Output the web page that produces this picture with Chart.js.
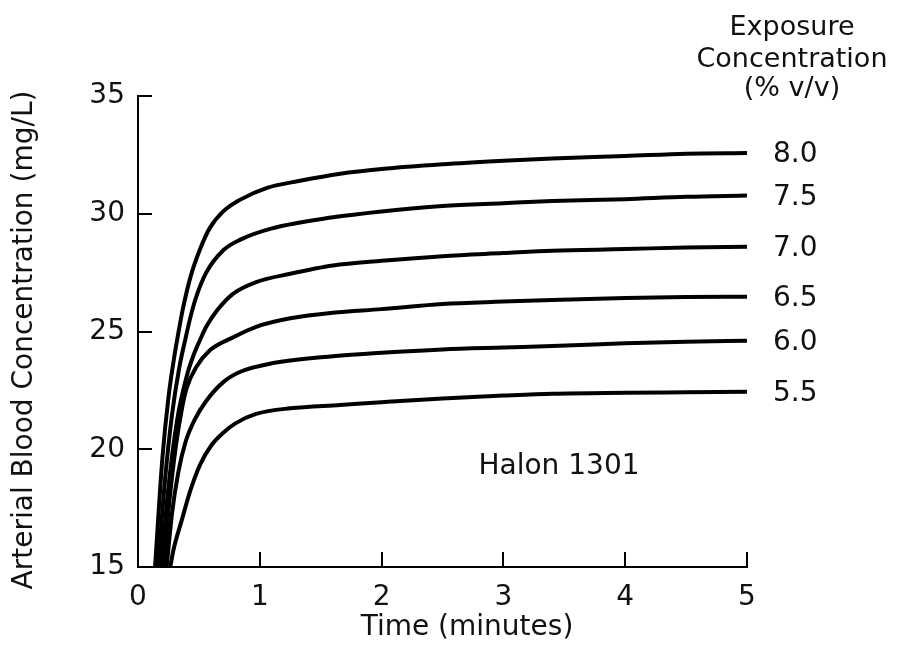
<!DOCTYPE html>
<html>
<head>
<meta charset="utf-8">
<script src="https://cdn.jsdelivr.net/npm/chart.js@4.4.0/dist/chart.umd.min.js"></script>
<style>
  html, body { margin: 0; padding: 0; background: #fff; }
  canvas { display: block; }
</style>
</head>
<body>
<canvas id="halonChart" width="901" height="655"></canvas>
<script>
// exposure concentrations (% v/v), top curve first
const seriesLabels = ["8.0", "7.5", "7.0", "6.5", "6.0", "5.5"];

// time (minutes) / arterial blood concentration (mg/L)
const time80 = [0.14, 0.2, 0.25, 0.3, 0.33, 0.37, 0.43, 0.51, 0.59, 0.7, 0.84, 1.06, 1.33, 1.66, 2.0, 2.5, 3.0, 3.4, 4.0, 4.5, 5.0];
const conc80 = [15, 19.6, 22.2, 24.0, 24.9, 26.0, 27.3, 28.5, 29.4, 30.1, 30.6, 31.1, 31.4, 31.7, 31.9, 32.1, 32.25, 32.35, 32.45, 32.55, 32.58];

const time75 = [0.165, 0.22, 0.28, 0.34, 0.39, 0.43, 0.48, 0.56, 0.7, 0.84, 1.1, 1.6, 2.0, 2.5, 3.0, 3.4, 4.0, 4.5, 5.0];
const conc75 = [15, 18.6, 21.5, 23.5, 24.7, 25.6, 26.5, 27.5, 28.45, 28.9, 29.38, 29.85, 30.1, 30.33, 30.45, 30.54, 30.62, 30.72, 30.77];

const time70 = [0.19, 0.25, 0.32, 0.4, 0.46, 0.51, 0.56, 0.65, 0.78, 0.97, 1.25, 1.6, 2.0, 2.5, 3.0, 3.4, 4.0, 4.5, 5.0];
const conc70 = [15, 18.4, 21.2, 23.1, 24.05, 24.65, 25.2, 25.9, 26.6, 27.1, 27.45, 27.8, 28.0, 28.2, 28.33, 28.43, 28.5, 28.57, 28.6];

const time65 = [0.21, 0.26, 0.31, 0.36, 0.4, 0.48, 0.59, 0.78, 0.97, 1.25, 1.6, 2.0, 2.5, 3.0, 3.4, 4.0, 4.5, 5.0];
const conc65 = [15, 17.9, 20.1, 21.7, 22.6, 23.5, 24.2, 24.75, 25.2, 25.56, 25.8, 25.95, 26.17, 26.27, 26.34, 26.42, 26.46, 26.48];

const time60 = [0.235, 0.28, 0.33, 0.39, 0.47, 0.56, 0.7, 0.84, 1.1, 1.6, 2.0, 2.5, 3.0, 3.4, 4.0, 4.5, 5.0];
const conc60 = [15, 17.3, 19.0, 20.3, 21.3, 22.05, 22.85, 23.29, 23.65, 23.95, 24.1, 24.24, 24.32, 24.38, 24.5, 24.57, 24.61];

const time55 = [0.265, 0.29, 0.36, 0.43, 0.51, 0.6, 0.7, 0.8, 0.97, 1.25, 1.66, 2.0, 2.5, 3.0, 3.4, 4.0, 4.5, 5.0];
const conc55 = [15, 15.7, 17.0, 18.25, 19.35, 20.15, 20.7, 21.1, 21.5, 21.74, 21.88, 22.0, 22.16, 22.28, 22.36, 22.4, 22.42, 22.44];

const xTicks = [0, 1, 2, 3, 4, 5];
const yTicks = [15, 20, 25, 30, 35];

const xTitle = "Time (minutes)";
const yTitle = "Arterial Blood Concentration (mg/L)";
const legendTitle = ["Exposure", "Concentration", "(% v/v)"];
const agentLabel = "Halon 1301";

const FONT = "'DejaVu Sans', sans-serif";

const times = [time80, time75, time70, time65, time60, time55];
const concs = [conc80, conc75, conc70, conc65, conc60, conc55];

function toPoints(t, c) {
    return t.map((x, i) => ({ x: x, y: c[i] }));
}

/** inward tick marks, axis titles and text annotations */
const annotate = {
    id: "annotate",
    afterDraw(chart) {
        const { ctx, chartArea, scales } = chart;
        const xs = scales.x, ys = scales.y;

        ctx.save();
        ctx.strokeStyle = "#000";
        ctx.lineWidth = 2;
        ctx.beginPath();
        yTicks.forEach(v => {
            const py = Math.round(ys.getPixelForValue(v));
            ctx.moveTo(chartArea.left, py);
            ctx.lineTo(chartArea.left + 14, py);
        });
        xTicks.forEach(v => {
            const px = Math.round(xs.getPixelForValue(v));
            ctx.moveTo(px, chartArea.bottom);
            ctx.lineTo(px, chartArea.bottom - 15);
        });
        ctx.stroke();

        ctx.fillStyle = "#111";
        ctx.font = "28px " + FONT;
        ctx.textAlign = "center";
        ctx.textBaseline = "middle";
        ctx.fillText(xTitle, 467, 628);

        ctx.save();
        ctx.translate(25, 340);
        ctx.rotate(-Math.PI / 2);
        ctx.fillText(yTitle, 0, 0);
        ctx.restore();

        ctx.font = "27px " + FONT;
        ctx.textBaseline = "alphabetic";
        const baselines = [35, 67, 96];
        legendTitle.forEach((line, i) => ctx.fillText(line, 792, baselines[i]));

        ctx.font = "28px " + FONT;
        ctx.textAlign = "left";
        ctx.textBaseline = "middle";
        seriesLabels.forEach((lab, i) => {
            const c = concs[i];
            const py = ys.getPixelForValue(c[c.length - 1]);
            ctx.fillText(lab, chartArea.right + 26, py + 2);
        });

        ctx.textAlign = "center";
        ctx.fillText(agentLabel, 559, 467);
        ctx.restore();
    }
};

const datasets = seriesLabels.map((lab, i) => ({
    label: lab,
    data: toPoints(times[i], concs[i]),
    borderColor: "#000",
    borderWidth: 4,
    pointRadius: 0,
    fill: false,
    cubicInterpolationMode: "monotone"
}));

new Chart(document.getElementById("halonChart"), {
    type: "line",
    data: { datasets: datasets },
    options: {
        responsive: false,
        animation: false,
        devicePixelRatio: 1,
        layout: { padding: { top: 96, right: 154, left: 0, bottom: 0 } },
        plugins: { legend: { display: false }, tooltip: { enabled: false } },
        scales: {
            x: {
                type: "linear",
                min: 0,
                max: 5,
                afterFit: s => { s.height = 88; },
                afterBuildTicks: s => { s.ticks = xTicks.map(v => ({ value: v })); },
                grid: { display: false, drawTicks: false },
                border: { display: true, color: "#000", width: 2 },
                ticks: { color: "#111", padding: 14, font: { family: FONT, size: 28 } }
            },
            y: {
                min: 15,
                max: 35,
                afterFit: s => { s.width = 138; },
                afterBuildTicks: s => { s.ticks = yTicks.map(v => ({ value: v })); },
                grid: { display: false, drawTicks: false },
                border: { display: true, color: "#000", width: 2 },
                ticks: { color: "#111", padding: 13, font: { family: FONT, size: 28 } }
            }
        }
    },
    plugins: [annotate]
});
</script>
</body>
</html>
